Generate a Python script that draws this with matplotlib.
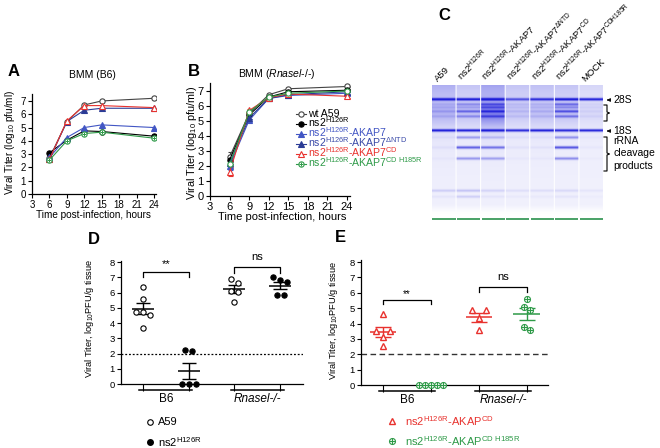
import numpy as np
import matplotlib
matplotlib.use('Agg')
import matplotlib.pyplot as plt

plt.rcParams['font.family'] = ['Liberation Sans', 'DejaVu Sans']
plt.rcParams['mathtext.fontset'] = 'custom'
plt.rcParams['mathtext.rm'] = 'Liberation Sans'
plt.rcParams['mathtext.it'] = 'Liberation Sans:italic'
plt.rcParams['mathtext.default'] = 'regular'

W, H = 660, 448

# ---- data: growth curves (A, B) ----
hours = [6, 9, 12, 15, 24]
series_labels = ['wt A59', 'ns2$^{H126R}$', 'ns2$^{H126R}$-AKAP7',
                 'ns2$^{H126R}$-AKAP7$^{\u0394NTD}$', 'ns2$^{H126R}$-AKAP7$^{CD}$',
                 'ns2$^{H126R}$-AKAP7$^{CD\\ H185R}$']

b6_wt = [2.7, 5.45, 6.7, 7.0, 7.2]
b6_ns2 = [3.1, 4.05, 4.75, 4.7, 4.35]
b6_akap7 = [2.75, 4.25, 5.0, 5.2, 5.0]
b6_dntd = [2.6, 5.45, 6.3, 6.45, 6.45]
b6_cd = [2.6, 5.5, 6.65, 6.65, 6.5]
b6_h185r = [2.55, 4.0, 4.55, 4.65, 4.2]

rn_wt = [2.6, 5.5, 6.75, 7.15, 7.3]
rn_ns2 = [2.4, 5.4, 6.6, 6.95, 7.05]
rn_akap7 = [2.0, 5.05, 6.5, 6.7, 6.85]
rn_dntd = [2.2, 5.2, 6.5, 6.75, 6.95]
rn_cd = [1.6, 5.7, 6.55, 6.8, 6.65]
rn_h185r = [2.1, 5.6, 6.6, 6.85, 7.0]
rn_err_wt = [0.35, 0.1, 0.05, 0.05, 0.05]
rn_err_ns2 = [0.3, 0.1, 0.05, 0.05, 0.05]
rn_err_akap7 = [0.25, 0.1, 0.05, 0.05, 0.05]
rn_err_dntd = [0.25, 0.1, 0.05, 0.05, 0.05]
rn_err_cd = [0.3, 0.1, 0.05, 0.05, 0.1]
rn_err_h185r = [0.25, 0.1, 0.05, 0.05, 0.05]

# ---- data: gel (C) ----
lane_labels = ['A59', 'ns2$^{H126R}$', 'ns2$^{H126R}$-AKAP7', 'ns2$^{H126R}$-AKAP7$^{\u0394NTD}$',
               'ns2$^{H126R}$-AKAP7$^{CD}$', 'ns2$^{H126R}$-AKAP7$^{CDH185R}$', 'MOCK']
band_pos = [15, 20, 23, 27, 32, 46, 53, 63, 74, 106, 112]
band_a59 = [0.85, 0.1, 0.1, 0.15, 0.1, 0.9, 0.05, 0.05, 0.03, 0.15, 0.05]
band_ns2 = [0.9, 0.3, 0.2, 0.45, 0.3, 0.9, 0.35, 0.65, 0.4, 0.2, 0.15]
band_akap7 = [0.9, 0.4, 0.35, 0.45, 0.35, 0.9, 0.2, 0.55, 0.35, 0.12, 0.05]
band_dntd = [0.6, 0.1, 0.08, 0.1, 0.08, 0.85, 0.05, 0.05, 0.03, 0.08, 0.03]
band_cd = [0.75, 0.12, 0.1, 0.12, 0.1, 0.9, 0.05, 0.05, 0.03, 0.08, 0.03]
band_h185r = [0.95, 0.45, 0.3, 0.55, 0.4, 0.85, 0.4, 0.7, 0.45, 0.1, 0.05]
band_mock = [0.9, 0.05, 0.05, 0.05, 0.05, 0.9, 0.03, 0.03, 0.02, 0.05, 0.02]
smear_top = [0.3, 0.2, 0.35, 0.2, 0.22, 0.2, 0.12]
smear_mid = [0.15, 0.12, 0.35, 0.1, 0.12, 0.12, 0.06]

# ---- data: mouse titers (D, E) ----
d_b6_a59 = [6.35, 5.55, 4.75, 4.7, 4.55, 3.7]
d_b6_ns2 = [2.2, 2.15, 0, 0, 0]
d_rn_a59 = [6.9, 6.65, 6.1, 6.05, 5.35]
d_rn_ns2 = [7.05, 6.85, 6.7, 5.85, 5.85]
e_b6_cd = [4.6, 3.5, 3.5, 3.15, 2.55]
e_b6_h185r = [0, 0, 0, 0, 0]
e_rn_cd = [4.85, 4.85, 4.35, 3.55]
e_rn_h185r = [5.6, 5.1, 4.9, 3.8, 3.6]

RED = '#e8322e'
GREEN = '#2e9a48'
BLUE = '#4256c4'
NAVY = '#2b3c96'

fig = plt.figure(figsize=(W / 100, H / 100), dpi=100)
fig.patch.set_facecolor('white')

# pixel-coordinate overlay for free text, drawn above every panel
ov = fig.add_axes([0, 0, 1, 1])
ov.set_xlim(0, W)
ov.set_ylim(H, 0)
ov.axis('off')
ov.set_zorder(10)


def px_axes(l, t, r, b):
    return fig.add_axes([l / W, 1 - b / H, (r - l) / W, (b - t) / H])


def style_axes(ax, fs):
    for s in ['top', 'right']:
        ax.spines[s].set_visible(False)
    for s in ['left', 'bottom']:
        ax.spines[s].set_linewidth(0.9)
    ax.tick_params(direction='out', length=3, width=0.8, labelsize=fs, pad=1.5)


styles = [
    dict(marker='o', color='#444444', mfc='white', mec='#444444'),
    dict(marker='o', color='black', mfc='black', mec='black'),
    dict(marker='^', color=BLUE, mfc=BLUE, mec=BLUE),
    dict(marker='^', color=NAVY, mfc=NAVY, mec=NAVY),
    dict(marker='^', color=RED, mfc='white', mec=RED),
    dict(marker='o', color=GREEN, mfc='white', mec=GREEN),
]
text_colors = ['black', 'black', BLUE, '#3a4aa8', RED, GREEN]

# ---- panel A ----
axA = px_axes(32, 94.3, 156.3, 194)
b6_all = [b6_wt, b6_ns2, b6_akap7, b6_dntd, b6_cd, b6_h185r]
for vals, st in zip(b6_all, styles):
    axA.plot(hours, vals, lw=0.8, ms=3.8, mew=0.8, **st)
axA.plot(hours, b6_h185r, '+', color=GREEN, ms=3.5, mew=0.7)
axA.set_xlim(3, 24.4)
axA.set_ylim(0, 7.5)
axA.set_xticks(range(3, 25, 3))
axA.set_yticks(range(0, 8))
style_axes(axA, 7)

# ---- panel B ----
axB = px_axes(210, 83.5, 349.6, 196)
rn_all = [rn_wt, rn_ns2, rn_akap7, rn_dntd, rn_cd, rn_h185r]
rn_errs = [rn_err_wt, rn_err_ns2, rn_err_akap7, rn_err_dntd, rn_err_cd, rn_err_h185r]
for vals, err, st in zip(rn_all, rn_errs, styles):
    axB.errorbar(hours, vals, yerr=err, lw=0.8, ms=3.8, mew=0.8, capsize=1.8,
                 elinewidth=0.7, capthick=0.7, **st)
axB.plot(hours, rn_h185r, '+', color=GREEN, ms=3.5, mew=0.7)
axB.set_xlim(3, 24.4)
axB.set_ylim(0, 7.5)
axB.set_xticks(range(3, 25, 3))
axB.set_yticks(range(0, 8))
style_axes(axB, 8)

# legend of B, drawn row by row
for i, (lab, st, tc) in enumerate(zip(series_labels, styles, text_colors)):
    y = 114 + 10 * i
    ov.plot([296, 306], [y, y], color=st['color'], lw=0.8)
    ov.plot([301], [y], ls='none', marker=st['marker'], ms=3.8, mew=0.8,
            mfc=st['mfc'], mec=st['mec'])
    if i == 5:
        ov.plot([301], [y], '+', color=GREEN, ms=3.5, mew=0.7)
    ov.text(308, y + 3.0, lab, fontsize=7.6, color=tc, va='baseline')

ov.text(8, 72, 'A', fontsize=12, fontweight='bold', va='center')
ov.text(92, 75, 'BMM (B6)', fontsize=7.5, ha='center', va='center')
ov.text(188, 72, 'B', fontsize=12, fontweight='bold', va='center')
ov.text(277, 74, 'BMM ($\\mathit{Rnasel}$-/-)', fontsize=7.5, ha='center', va='center')
ov.text(10, 142, 'Viral Titer (log$_{10}$ pfu/ml)', fontsize=7.2, rotation=90, ha='center', va='center')
ov.text(192, 143, 'Viral Titer (log$_{10}$ pfu/ml)', fontsize=7.8, rotation=90, ha='center', va='center')
ov.text(93, 215, 'Time post-infection, hours', fontsize=7.2, ha='center', va='center')
ov.text(282, 217, 'Time post-infection, hours', fontsize=8, ha='center', va='center')

# ---- panel C (gel) ----
axC = px_axes(432, 85, 604, 222)
rows = 274
ygel = np.linspace(0, 137, rows)
lane_w = 24
bands_all = [band_a59, band_ns2, band_akap7, band_dntd, band_cd, band_h185r, band_mock]
img = np.zeros((rows, 7 * lane_w))
for i, ints in enumerate(bands_all):
    prof = 0.06 + smear_top[i] * np.exp(-ygel / 30)
    prof += smear_mid[i] * np.exp(-0.5 * ((ygel - 30) / 9) ** 2)
    for p, a in zip(band_pos, ints):
        prof += a * np.exp(-0.5 * ((ygel - p) / 0.9) ** 2)
    prof *= np.clip((128 - ygel) / 8, 0, 1)
    img[:, i * lane_w:(i + 1) * lane_w - 1] = np.clip(prof, 0, 1)[:, None]
blue = np.array([0.1, 0.1, 0.85])
rgb = 1 - img[..., None] * (1 - blue)
axC.imshow(rgb, extent=(0, 7, 137, 0), aspect='auto', interpolation='bilinear')
for i in range(7):
    axC.hlines(134, i + 0.02, i + 0.96, color='#3a9a5a', lw=1.3)
axC.set_xlim(0, 7)
axC.set_ylim(137, 0)
axC.axis('off')

ov.text(438, 15, 'C', fontsize=12, fontweight='bold', va='center')
for i, lab in enumerate(lane_labels):
    cx = 432 + (i + 0.5) * 172 / 7
    ov.text(cx - 5, 83, lab, fontsize=6.8, rotation=45, rotation_mode='anchor',
            ha='left', va='bottom')

for yy, lab in [(100, '28S'), (131, '18S')]:
    ov.annotate('', xy=(604, yy), xytext=(611, yy),
                arrowprops=dict(arrowstyle='-|>', lw=0.6, color='k', mutation_scale=5))
    ov.text(613, yy, lab, fontsize=7.5, va='center')
for top, bot in [(105, 121), (137, 171)]:
    mid = (top + bot) / 2
    ov.plot([604, 607, 607, 609.5, 607, 607, 604],
            [top, top, mid - 1, mid, mid + 1, bot, bot], color='k', lw=0.8)
ov.text(613, 141, 'rRNA', fontsize=7.5, va='center')
ov.text(613, 153, 'cleavage', fontsize=7.5, va='center')
ov.text(613, 166, 'products', fontsize=7.5, va='center')


# ---- helpers for D and E ----
def swarm(vals, step):
    vals = np.asarray(vals, float)
    order = np.argsort(-vals)
    offs = np.zeros(len(vals))
    groups = []
    for idx in order:
        if groups and abs(vals[groups[-1][-1]] - vals[idx]) < 0.28:
            groups[-1].append(idx)
        else:
            groups.append([idx])
    for g in groups:
        n = len(g)
        for k, idx in enumerate(g):
            offs[idx] = (k - (n - 1) / 2) * step
    return offs


def mean_sem(ax, x, vals, color, wmean=0.25, wsem=0.16):
    v = np.asarray(vals, float)
    m = v.mean()
    s = v.std(ddof=1) / np.sqrt(len(v))
    ax.hlines(m, x - wmean, x + wmean, color=color, lw=1.1, zorder=3)
    ax.hlines([m - s, m + s], x - wsem, x + wsem, color=color, lw=1.0, zorder=3)
    ax.vlines(x, m - s, m + s, color=color, lw=1.0, zorder=3)


def bracket(ax, x0, x1, y, drop, text, ty, fs):
    ax.plot([x0, x0, x1, x1], [y - drop, y, y, y - drop], color='k', lw=0.9, clip_on=False)
    ax.text((x0 + x1) / 2, ty, text, ha='center', va='center', fontsize=fs, clip_on=False)


def category_axis(ax, groups_x, names, fs):
    ax.set_xticks(groups_x)
    ax.set_xticklabels([])
    ax.tick_params(axis='x', length=5)
    for (a, b), name in zip([(groups_x[0], groups_x[1]), (groups_x[2], groups_x[3])], names):
        ax.plot([a - 0.08, b + 0.08], [-0.4, -0.4], color='k', lw=1.1, clip_on=False)
        ax.text((a + b) / 2, -1.0, name, ha='center', va='center', fontsize=fs,
                fontstyle='italic' if 'Rnasel' in name else 'normal')


# ---- panel D ----
axD = px_axes(121, 260.5, 303, 384)
gx = [1, 2, 3, 4]
d_groups = [d_b6_a59, d_b6_ns2, d_rn_a59, d_rn_ns2]
d_filled = [False, True, False, True]
for x, vals, filled in zip(gx, d_groups, d_filled):
    offs = swarm(vals, 0.15)
    axD.plot(x + offs, vals, 'o', ms=3.8, mew=0.8, mec='black',
             mfc='black' if filled else 'white', clip_on=False, zorder=4)
    mean_sem(axD, x, vals, 'black', 0.24, 0.15)
axD.axhline(2, ls=(0, (1.5, 1.5)), color='black', lw=0.9)
axD.set_xlim(0.52, 4.5)
axD.set_ylim(0, 8.1)
axD.set_yticks(range(0, 9))
style_axes(axD, 6.8)
category_axis(axD, gx, ['B6', 'Rnasel-/-'], 8.5)
bracket(axD, 1, 2, 7.36, 0.36, '**', 7.85, 8)
bracket(axD, 3, 4, 7.65, 0.38, 'ns', 8.3, 8)

ov.text(88, 240, 'D', fontsize=12, fontweight='bold', va='center')
ov.text(90, 318, 'Viral Titer, log$_{10}$PFU/g tissue', fontsize=6.7, rotation=90,
        ha='center', va='center')
ov.plot([150], [422], 'o', ms=4, mfc='white', mec='black', mew=0.8)
ov.text(158, 422, 'A59', fontsize=8, va='center')
ov.plot([150], [442], 'o', ms=4, mfc='black', mec='black')
ov.text(158, 442, 'ns2$^{H126R}$', fontsize=8, va='center')

# ---- panel E ----
axE = px_axes(361, 260.5, 548, 385)
e_groups = [e_b6_cd, e_b6_h185r, e_rn_cd, e_rn_h185r]
e_colors = [RED, GREEN, RED, GREEN]
for x, vals, col in zip(gx, e_groups, e_colors):
    offs = swarm(vals, 0.13 if col == GREEN else 0.3)
    if col == RED:
        axE.plot(x + offs, vals, '^', ms=5, mew=1.0, mec=RED, mfc='white', clip_on=False, zorder=4)
    else:
        axE.plot(x + offs, vals, 'o', ms=4.3, mew=0.8, mec=GREEN, mfc='white', clip_on=False, zorder=4)
        axE.plot(x + offs, vals, '+', ms=4.3, mew=0.8, color=GREEN, clip_on=False, zorder=5)
    mean_sem(axE, x, vals, col, 0.28, 0.16)
axE.axhline(2, ls=(0, (4, 2.5)), color='#333333', lw=1.0)
axE.set_xlim(0.54, 4.44)
axE.set_ylim(0, 8.1)
axE.set_yticks(range(0, 9))
style_axes(axE, 6.8)
category_axis(axE, gx, ['B6', 'Rnasel-/-'], 8.5)
bracket(axE, 1, 2, 5.52, 0.25, '**', 5.9, 7)
bracket(axE, 3, 4, 6.38, 0.32, 'ns', 7.0, 8)

ov.text(335, 238, 'E', fontsize=12, fontweight='bold', va='center')
ov.text(333, 320, 'Viral Titer, log$_{10}$PFU/g tissue', fontsize=6.7, rotation=90,
        ha='center', va='center')
ov.plot([392], [421], '^', ms=5, mfc='white', mec=RED, mew=1.0)
ov.text(405, 421, 'ns2$^{H126R}$-AKAP$^{CD}$', fontsize=8, color=RED, va='center')
ov.plot([392], [441], 'o', ms=4.3, mfc='white', mec=GREEN, mew=0.8)
ov.plot([392], [441], '+', ms=4.3, color=GREEN, mew=0.8)
ov.text(405, 441, 'ns2$^{H126R}$-AKAP$^{CD\\ H185R}$', fontsize=8, color=GREEN, va='center')

fig.savefig('out.png', dpi=100)
